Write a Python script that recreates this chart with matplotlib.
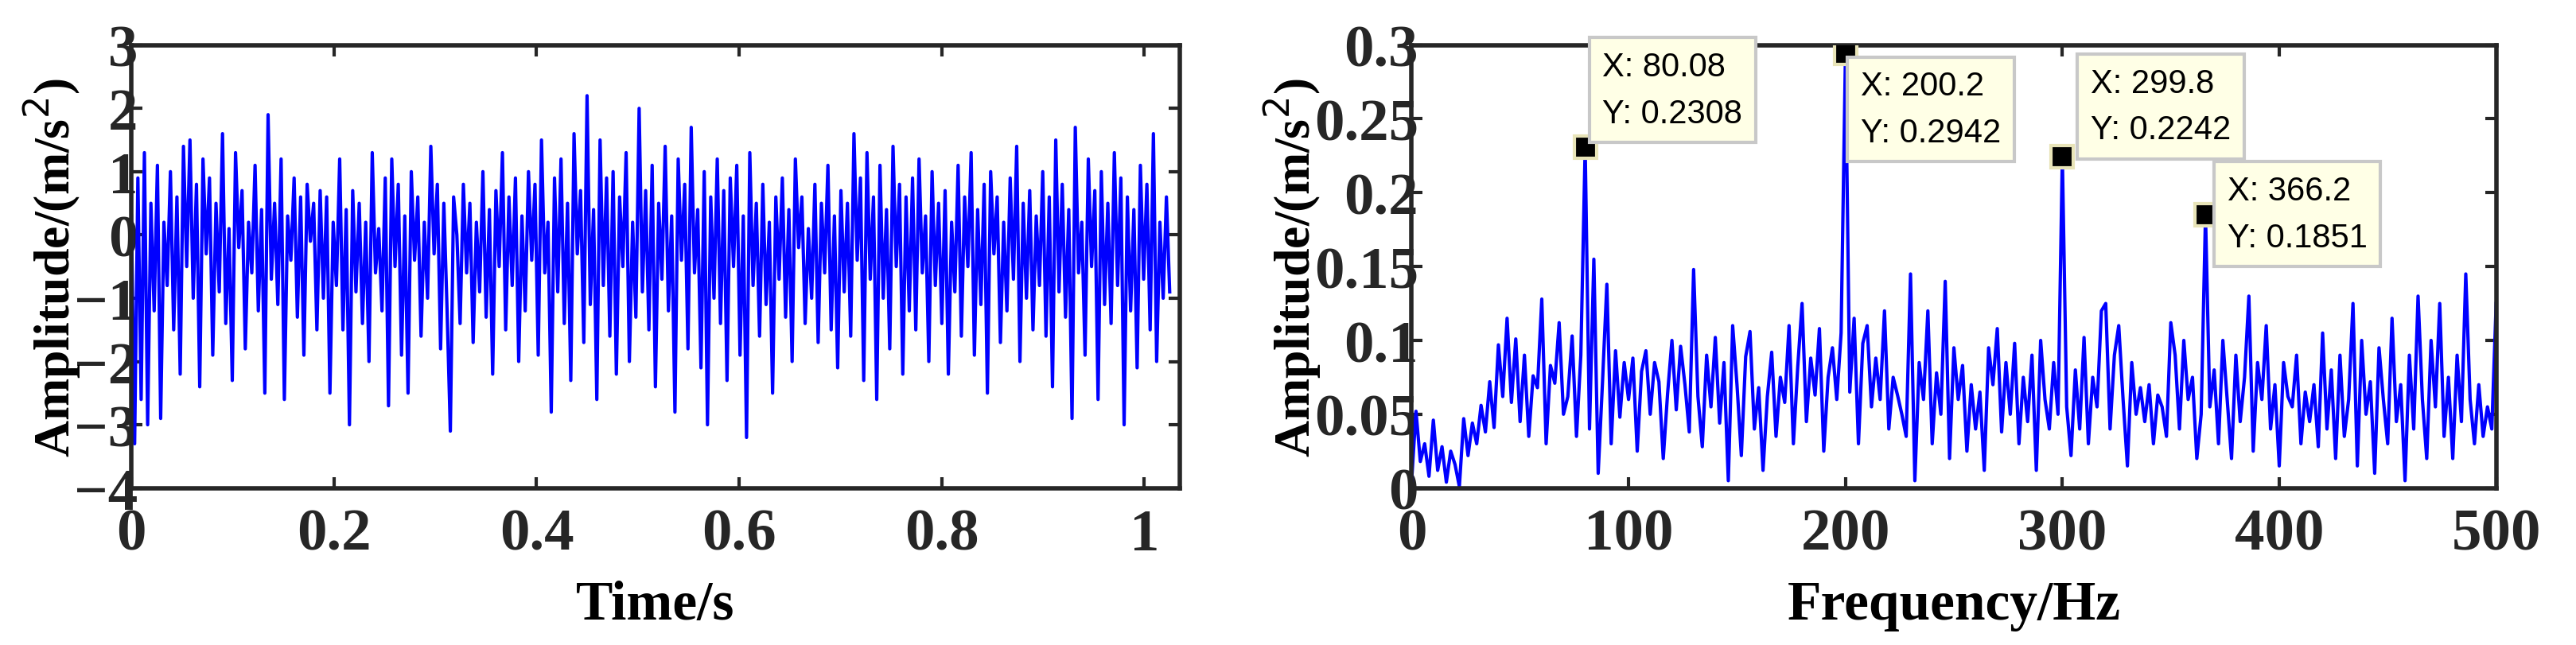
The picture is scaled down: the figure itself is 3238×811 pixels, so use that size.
import matplotlib.pyplot as plt
import numpy as np

# time-domain signal, m/s^2
acc = [0.3,-3.3,0.9,-2.6,1.3,-3.0,0.5,-1.2,1.1,-2.9,0.2,-0.8,1.0,-1.5,0.6,-2.2,1.4,-0.5,1.5,-1.0,
       0.8,-2.4,1.2,-0.3,0.9,-1.9,0.5,-0.9,1.6,-1.4,0.1,-2.3,1.3,-0.2,0.7,-1.8,0.2,-0.6,1.1,-1.2,
       0.4,-2.5,1.9,-0.7,0.5,-1.1,1.2,-2.6,0.3,-0.4,0.9,-1.3,0.6,-1.9,0.8,-0.1,0.5,-1.5,0.7,-1.0,
       0.6,-2.5,0.2,-0.8,1.2,-1.5,0.4,-3.0,0.7,-0.9,0.5,-1.4,0.2,-2.0,1.3,-0.6,0.1,-1.2,0.9,-2.7,
       1.2,-0.5,0.8,-1.9,0.3,-2.5,1.0,-0.4,0.6,-1.6,0.2,-1.0,1.4,-0.3,0.8,-1.8,0.5,-1.2,-3.1,0.6,
       0.0,-1.4,0.8,-0.6,0.5,-1.7,0.2,-0.9,1.0,-1.3,0.4,-2.2,0.7,-0.5,1.3,-1.5,0.6,-0.8,0.9,-2.0,
       0.3,-1.2,1.0,-0.4,0.8,-1.9,1.5,-0.6,0.2,-2.8,0.9,-0.9,1.2,-1.4,0.5,-2.3,1.6,-0.3,0.7,-1.7,
       2.2,-1.1,0.4,-2.6,1.5,-0.8,0.9,-1.6,1.0,-2.2,0.6,-0.5,1.3,-2.0,0.2,-1.3,2.0,-0.9,0.7,-1.5,
       1.1,-2.4,0.5,-0.7,1.4,-1.2,0.3,-2.8,1.2,-0.4,0.8,-1.8,1.7,-0.6,0.4,-2.1,1.0,-3.0,0.6,-1.0,
       1.2,-1.4,0.7,-2.3,0.9,-0.5,1.1,-1.9,0.3,-3.2,1.3,-0.8,0.5,-1.6,0.8,-1.1,0.2,-2.5,0.6,-0.7,
       0.9,-1.3,0.4,-2.0,1.2,-0.2,0.6,-1.4,0.1,-1.0,0.8,-1.7,0.5,-0.6,1.1,-1.5,0.3,-2.1,0.7,-0.9,
       0.5,-1.6,1.6,-0.4,0.9,-2.3,1.3,-0.7,0.6,-2.6,1.1,-1.0,0.4,-1.8,1.4,-0.5,0.8,-2.2,0.6,-1.2,
       0.9,-1.5,1.2,-0.6,0.3,-2.0,1.0,-0.8,0.5,-1.4,0.7,-2.2,0.2,-0.9,1.1,-1.6,0.6,-0.5,1.3,-1.9,
       0.4,-1.1,0.8,-2.5,1.0,-0.3,0.6,-1.7,0.2,-1.2,0.9,-0.7,1.4,-2.0,0.5,-1.0,0.7,-1.5,0.3,-0.8,
       1.0,-1.6,0.6,-2.4,1.5,-0.9,0.8,-1.3,0.4,-2.9,1.7,-0.6,0.2,-1.9,1.2,-0.5,0.7,-2.6,1.0,-1.1,
       0.5,-1.4,1.3,-0.8,0.9,-3.0,0.6,-1.2,0.4,-2.1,1.1,-0.7,0.8,-1.5,1.6,-2.0,0.2,-1.0,0.6,-0.9]
t_end = 1.025

# amplitude spectrum, m/s^2, evenly spaced 0..500 Hz
amp = [0.005,0.052,0.018,0.03,0.008,0.046,0.012,0.028,0.004,0.025,0.016,0.001,0.047,0.022,0.044,0.03,0.056,0.038,0.072,0.041,
       0.097,0.062,0.115,0.058,0.101,0.045,0.09,0.035,0.076,0.068,0.128,0.03,0.083,0.071,0.112,0.05,0.062,0.103,0.035,0.09,
       0.2308,0.04,0.155,0.01,0.072,0.138,0.03,0.093,0.048,0.085,
       0.06,0.088,0.025,0.079,0.093,0.05,0.085,0.072,0.02,0.064,
       0.1,0.053,0.096,0.07,0.038,0.148,0.062,0.028,0.09,0.055,
       0.102,0.044,0.085,0.005,0.11,0.07,0.022,0.089,0.106,0.04,
       0.068,0.012,0.062,0.092,0.035,0.075,0.058,0.11,0.03,0.082,
       0.125,0.045,0.088,0.063,0.108,0.025,0.075,0.095,0.06,0.105,
       0.2942,0.065,0.115,0.03,0.098,0.11,0.055,0.088,0.06,0.12,
       0.04,0.075,0.063,0.05,0.035,0.145,0.005,0.085,0.06,0.12,
       0.03,0.078,0.05,0.14,0.02,0.095,0.06,0.083,0.025,0.07,
       0.04,0.065,0.012,0.095,0.07,0.108,0.038,0.085,0.05,0.098,
       0.03,0.075,0.045,0.09,0.012,0.1,0.06,0.04,0.085,0.05,
       0.2242,0.055,0.022,0.08,0.04,0.102,0.03,0.075,0.055,0.12,
       0.125,0.04,0.09,0.11,0.06,0.015,0.085,0.05,0.068,0.045,
       0.07,0.03,0.063,0.055,0.035,0.112,0.09,0.04,0.1,0.06,
       0.075,0.02,0.05,0.1851,0.055,0.08,0.03,0.1,0.06,0.02,
       0.09,0.045,0.075,0.13,0.025,0.085,0.06,0.11,0.04,0.07,
       0.015,0.085,0.062,0.055,0.09,0.03,0.065,0.045,0.07,0.028,
       0.105,0.04,0.08,0.02,0.09,0.035,0.06,0.125,0.015,0.1,
       0.05,0.072,0.01,0.095,0.06,0.03,0.115,0.045,0.07,0.005,
       0.09,0.04,0.13,0.06,0.02,0.1,0.055,0.125,0.035,0.075,
       0.02,0.09,0.045,0.145,0.06,0.03,0.07,0.035,0.055,0.04,
       0.125]

# data tips
tip_x = [80.08, 200.2, 299.8, 366.2]
tip_y = [0.2308, 0.2942, 0.2242, 0.1851]
tip_box = [(88, 0.296), (207, 0.283), (313, 0.285), (376, 0.212)]

serif = {'family': 'Liberation Serif', 'weight': 'bold'}
TS = 54

fig = plt.figure(figsize=(32.38, 8.12), dpi=100)
ax1 = fig.add_axes([0.051, 0.243, 0.407, 0.686])
ax2 = fig.add_axes([0.548, 0.243, 0.421, 0.686])

t = np.linspace(0, t_end, len(acc))
ax1.plot(t, acc, color='#0000ff', lw=3)
ax1.set_xlim(0, 1.035)
ax1.set_ylim(-4, 3)
ax1.set_xticks([0, 0.2, 0.4, 0.6, 0.8, 1])
ax1.set_xticklabels(['0', '0.2', '0.4', '0.6', '0.8', '1'])
ax1.set_yticks(range(-4, 4))
ax1.set_xlabel('Time/s', fontdict=serif, fontsize=TS - 4, labelpad=16)

freqs = np.linspace(0, 500, len(amp))
ax2.plot(freqs, amp, color='#0000ff', lw=3)
ax2.set_xlim(0, 500)
ax2.set_ylim(0, 0.3)
ax2.set_xticks(range(0, 501, 100))
ax2.set_yticks([0, 0.05, 0.1, 0.15, 0.2, 0.25, 0.3])
ax2.set_yticklabels(['0', '0.05', '0.1', '0.15', '0.2', '0.25', '0.3'])
ax2.set_xlabel('Frequency/Hz', fontdict=serif, fontsize=TS - 4, labelpad=16)

for ax in (ax1, ax2):
    ax.set_ylabel('Amplitude/(m/s$^2$)', fontdict=serif, fontsize=TS - 8, labelpad=-8)
    for s in ax.spines.values():
        s.set_linewidth(4)
        s.set_color('#262626')
    ax.tick_params(direction='in', length=10, width=3, top=True, right=True,
                   labelsize=TS, colors='#262626')
    ax.tick_params(axis='x', pad=18)
    ax.tick_params(axis='y', pad=-6)
    for lab in ax.get_xticklabels() + ax.get_yticklabels():
        lab.set_fontfamily('Liberation Serif')
        lab.set_fontweight('bold')

for x, y, (bx, by) in zip(tip_x, tip_y, tip_box):
    ax2.plot(x, y, marker='s', ms=20, mfc='black', mec='#e8e4b8', mew=3, zorder=5)
    ax2.text(bx, by, f'X: {x:g}\nY: {y:.4f}', ha='left', va='top', fontsize=30,
             family=['Liberation Sans Narrow', 'Liberation Sans', 'DejaVu Sans'],
             linespacing=1.6, zorder=6,
             bbox=dict(boxstyle='square,pad=0.4', fc='#ffffe6', ec='#c8c8c8', lw=3))

fig.savefig('out.png', dpi=100)
